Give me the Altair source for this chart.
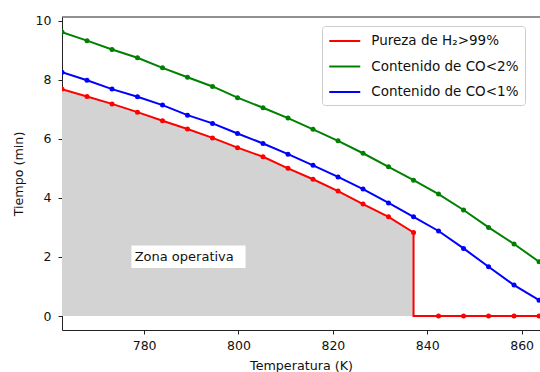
import altair as alt
import pandas as pd

# ---- data ----
temperatura = [762.6, 767.9, 773.2, 778.6, 783.9, 789.2, 794.5, 799.8, 805.2, 810.5,
               815.8, 821.1, 826.4, 831.8, 837.1, 842.4, 847.7, 853.0, 858.4, 863.7]
pureza_h2 = [7.68, 7.43, 7.18, 6.90, 6.61, 6.33, 6.03, 5.70, 5.39, 5.00,
             4.63, 4.23, 3.79, 3.36, 2.83, 0.0, 0.0, 0.0, 0.0, 0.0]
co_2 = [9.61, 9.32, 9.02, 8.74, 8.40, 8.08, 7.77, 7.39, 7.05, 6.70,
        6.32, 5.93, 5.51, 5.05, 4.60, 4.13, 3.59, 3.00, 2.44, 1.84]
co_1 = [8.25, 7.98, 7.68, 7.42, 7.14, 6.80, 6.52, 6.18, 5.84, 5.48,
        5.10, 4.71, 4.30, 3.83, 3.36, 2.88, 2.29, 1.67, 1.05, 0.54]
series_labels = ["Pureza de H\u2082>99%", "Contenido de CO<2%", "Contenido de CO<1%"]
series_colors = ["#ff0000", "#008000", "#0000ff"]
corte_T = 837.1          # temperature where purity curve drops to zero
zona_text = "Zona operativa"
zona_x, zona_y = 778.0, 2.0
zona_box_x = [777.3, 801.5]
zona_box_y = [1.63, 2.39]
x_ticks = [780, 800, 820, 840, 860]
y_ticks = [0, 2, 4, 6, 8, 10]
x_domain = [762.6, 863.9]
y_domain = [-0.47, 10.12]

FONT = "DejaVu Sans"

# ---- tables ----
rows = []
for s, vals in zip(series_labels, [pureza_h2, co_2, co_1]):
    for i, (t, v) in enumerate(zip(temperatura, vals)):
        rows.append({"T": t, "v": v, "serie": s, "orden": i})
pts = pd.DataFrame(rows)
line_rows = rows + [{"T": corte_T, "v": 0.0, "serie": series_labels[0], "orden": 14.5}]
lines = pd.DataFrame(line_rows)
area = pd.DataFrame({"T": [t for t in temperatura if t <= corte_T],
                     "v": [v for t, v in zip(temperatura, pureza_h2) if t <= corte_T]})
area["v0"] = 0.0
box = pd.DataFrame({"x1": [zona_box_x[0]], "x2": [zona_box_x[1]],
                    "y1": [zona_box_y[0]], "y2": [zona_box_y[1]]})
label = pd.DataFrame({"T": [zona_x], "v": [zona_y], "txt": [zona_text]})

xs = alt.Scale(domain=x_domain, nice=False, zero=False)
ys = alt.Scale(domain=y_domain, nice=False, zero=False)
x_axis = alt.Axis(values=x_ticks, title="Temperatura (K)", grid=False,
                  titleY=39.5, titleBaseline="alphabetic", labelPadding=5)
y_axis = alt.Axis(values=y_ticks, title="Tiempo (min)", grid=False,
                  titleX=-44, titleY=156.5, titleAngle=270,
                  titleAlign="center", titleBaseline="middle", labelPadding=7)

area_l = alt.Chart(area).mark_area(color="#d3d3d3", clip=True).encode(
    x=alt.X("T:Q", scale=xs, axis=x_axis),
    y=alt.Y("v:Q", scale=ys, axis=y_axis),
    y2="v0:Q",
)
box_l = alt.Chart(box).mark_rect(color="white").encode(
    x=alt.X("x1:Q", scale=xs), x2="x2:Q",
    y=alt.Y("y1:Q", scale=ys), y2="y2:Q",
)
text_l = alt.Chart(label).mark_text(align="left", baseline="middle", font=FONT,
                                    fontSize=13, color="#111").encode(
    x=alt.X("T:Q", scale=xs), y=alt.Y("v:Q", scale=ys), text="txt:N")

color_enc = alt.Color("serie:N", scale=alt.Scale(domain=series_labels, range=series_colors),
                      legend=alt.Legend(title=None, orient="none", legendX=260, legendY=9,
                                        symbolType="M-2,0H2", symbolSize=240,
                                        symbolOffset=7.75, labelOffset=17.5,
                                        symbolStrokeWidth=2, labelFontSize=13.5,
                                        labelFont=FONT, labelColor="#111",
                                        padding=6, rowPadding=9.5,
                                        strokeColor="#cccccc", fillColor="rgba(255,255,255,0.8)",
                                        cornerRadius=3))
line_l = alt.Chart(lines).mark_line(strokeWidth=2, clip=True).encode(
    x=alt.X("T:Q", scale=xs), y=alt.Y("v:Q", scale=ys),
    color=color_enc, detail="serie:N", order="orden:Q")
pt_l = alt.Chart(pts).mark_circle(size=25, opacity=1, clip=True).encode(
    x=alt.X("T:Q", scale=xs), y=alt.Y("v:Q", scale=ys),
    color=alt.Color("serie:N", scale=alt.Scale(domain=series_labels, range=series_colors),
                    legend=None))
top_l = alt.Chart(pd.DataFrame({"a": [0]})).mark_rule(color="#222", strokeWidth=1).encode(
    x=alt.value(0), x2=alt.value(478), y=alt.value(0))

chart = alt.layer(area_l, box_l, text_l, line_l, pt_l, top_l).properties(
    width=478, height=313,
    autosize=alt.AutoSizeParams(type="none"),
    padding={"left": 62, "top": 17, "right": 0, "bottom": 42},
).configure_view(stroke=None).configure_axis(
    labelFont=FONT, titleFont=FONT, labelFontSize=12.5, titleFontSize=12.7,
    labelColor="#111", titleColor="#111", titleFontWeight="normal",
    domainColor="#222", tickColor="#222", tickSize=4,
    domainWidth=1, tickWidth=1,
)

chart.save("out.html", embed_options={"renderer": "svg", "actions": False})
